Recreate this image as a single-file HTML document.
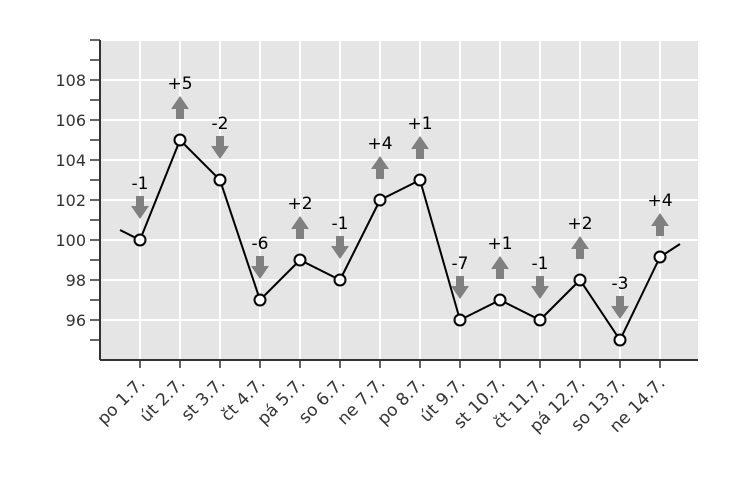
<!DOCTYPE html>
<html><head><meta charset="utf-8"><style>
body{margin:0;background:#fff}
text{font-family:"DejaVu Sans","Liberation Sans",sans-serif}
</style></head><body>
<svg id="c" width="740" height="480"></svg>
<script>
const categories=["po 1.7.","út 2.7.","st 3.7.","čt 4.7.","pá 5.7.","so 6.7.","ne 7.7.","po 8.7.","út 9.7.","st 10.7.","čt 11.7.","pá 12.7.","so 13.7.","ne 14.7."];
const values=[100,105,103,97,99,98,102,103,96,97,96,98,95,99.15];
const changes=["-1","+5","-2","-6","+2","-1","+4","+1","-7","+1","-1","+2","-3","+4"];
const leadIn=[-0.5,100.5];
const leadOut=[13.5,99.8];
const yTicks=[96,98,100,102,104,106,108];
const NS="http://www.w3.org/2000/svg";
const svg=document.getElementById('c');
const L=100,R=698,T=40,B=360;
const x=i=>140+40*i;
const y=v=>240-(v-100)*20;
function el(t,a,p){const e=document.createElementNS(NS,t);for(const k in a)e.setAttribute(k,a[k]);(p||svg).appendChild(e);return e;}
const bg=el('rect',{x:L,y:T,width:R-L,height:B-T,fill:'#e5e5e5'});


for(let v=95;v<=110;v++){
  if(v%2===0){const g=el('line',{x1:L,x2:R,y1:y(v),y2:y(v),stroke:'#fff','stroke-width':2});
  }
  const t=el('line',{x1:L-10,x2:L,y1:y(v),y2:y(v),stroke:'#333','stroke-width':1.5});
  
}
yTicks.forEach(v=>{const t=el('text',{x:L-14,y:y(v)+6,'text-anchor':'end','font-size':16,fill:'#333'});t.textContent=v;
});
categories.forEach((c,i)=>{
  const g=el('line',{x1:x(i),x2:x(i),y1:T,y2:B,stroke:'#fff','stroke-width':2});
  
  const t=el('line',{x1:x(i),x2:x(i),y1:B,y2:B+8,stroke:'#333','stroke-width':1.5});
  
  const lb=el('text',{x:x(i)+6,y:B+24,'text-anchor':'end','font-size':17,fill:'#333',transform:`rotate(-45 ${x(i)+6} ${B+24})`});lb.textContent=c;
  
});
const ax1=el('line',{x1:L,x2:L,y1:T,y2:B,stroke:'#333','stroke-width':2});

const ax2=el('line',{x1:L,x2:R,y1:B,y2:B,stroke:'#333','stroke-width':2});

let pts=[[x(leadIn[0]),y(leadIn[1])]];
values.forEach((v,i)=>pts.push([x(i),y(v)]));
pts.push([x(leadOut[0]),y(leadOut[1])]);
const line=el('polyline',{points:pts.map(p=>p.join(',')).join(' '),fill:'none',stroke:'#000','stroke-width':2});

values.forEach((v,i)=>{
  const px=x(i),py=y(v);
  const m=el('circle',{cx:px,cy:py,r:5.5,fill:'#fff',stroke:'#000','stroke-width':2});
  
  const up=changes[i][0]==='+';
  const a=py-44,b=py-21;
  let d;
  if(up) d=`M${px-4},${b} L${px-4},${a+13} L${px-9},${a+13} L${px},${a} L${px+9},${a+13} L${px+4},${a+13} L${px+4},${b} Z`;
  else d=`M${px-4},${a} L${px-4},${b-13} L${px-9},${b-13} L${px},${b} L${px+9},${b-13} L${px+4},${b-13} L${px+4},${a} Z`;
  const ar=el('path',{d:d,fill:'#808080'});
  
  const t=el('text',{x:px,y:py-51,'text-anchor':'middle','font-size':17,fill:'#000'});t.textContent=changes[i];
  
});
</script>
</body></html>
